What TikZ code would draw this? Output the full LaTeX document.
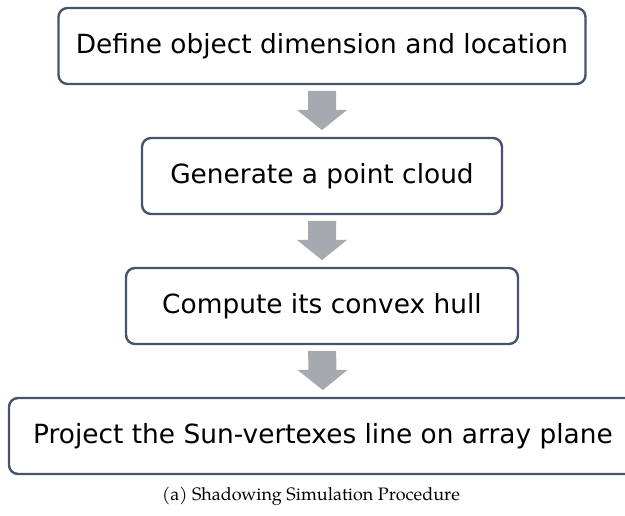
\documentclass[tikz,border=0pt]{standalone}
\usepackage{fontspec}
\setmainfont{DejaVu Sans}
\newfontfamily\capfont{texgyrepagella-regular.otf}
\usetikzlibrary{calc}
\definecolor{boxline}{RGB}{68,84,106}
\definecolor{arrowgray}{RGB}{166,169,175}
\begin{document}
\begin{tikzpicture}[x=1pt,y=1pt,
  stepbox/.style={draw=boxline, line width=2.4pt, rounded corners=9pt, fill=white,
    minimum height=76pt, inner sep=0pt, text=black,
    font=\fontsize{26.4}{30}\selectfont},
  blockarrow/.style={fill=arrowgray, draw=none},
  captext/.style={font=\capfont\fontsize{18}{21}\selectfont, text=black, anchor=base}]
\useasboundingbox (0,0) rectangle (625,-516);
\clip (0,0) rectangle (625,-516);
\node[stepbox, minimum width=527pt] (b1) at (322,-46) {Define object dimension and location};
\node[stepbox, minimum width=360pt] (b2) at (322,-176) {Generate a point cloud};
\node[stepbox, minimum width=392pt] (b3) at (322,-306) {Compute its convex hull};
\node[stepbox, minimum width=628pt] (b4) at (323,-436) {Project the Sun-vertexes line on array plane};
\foreach \a/\b in {b1/b2,b2/b3,b3/b4}{
  \coordinate (top) at ($(\a.south)!0.11!(\b.north)$);
  \coordinate (mid) at ($(\a.south)!0.48!(\b.north)$);
  \coordinate (tip) at ($(\a.south)!0.87!(\b.north)$);
  \fill[blockarrow] ($(top)+(-14,0)$) -- ($(top)+(14,0)$) -- ($(mid)+(14,0)$)
    -- ($(mid)+(25,0)$) -- (tip) -- ($(mid)+(-25,0)$) -- ($(mid)+(-14,0)$) -- cycle;
}
\node[captext] (cap) at (311,-500) {(a) Shadowing Simulation Procedure};
\end{tikzpicture}
\end{document}
